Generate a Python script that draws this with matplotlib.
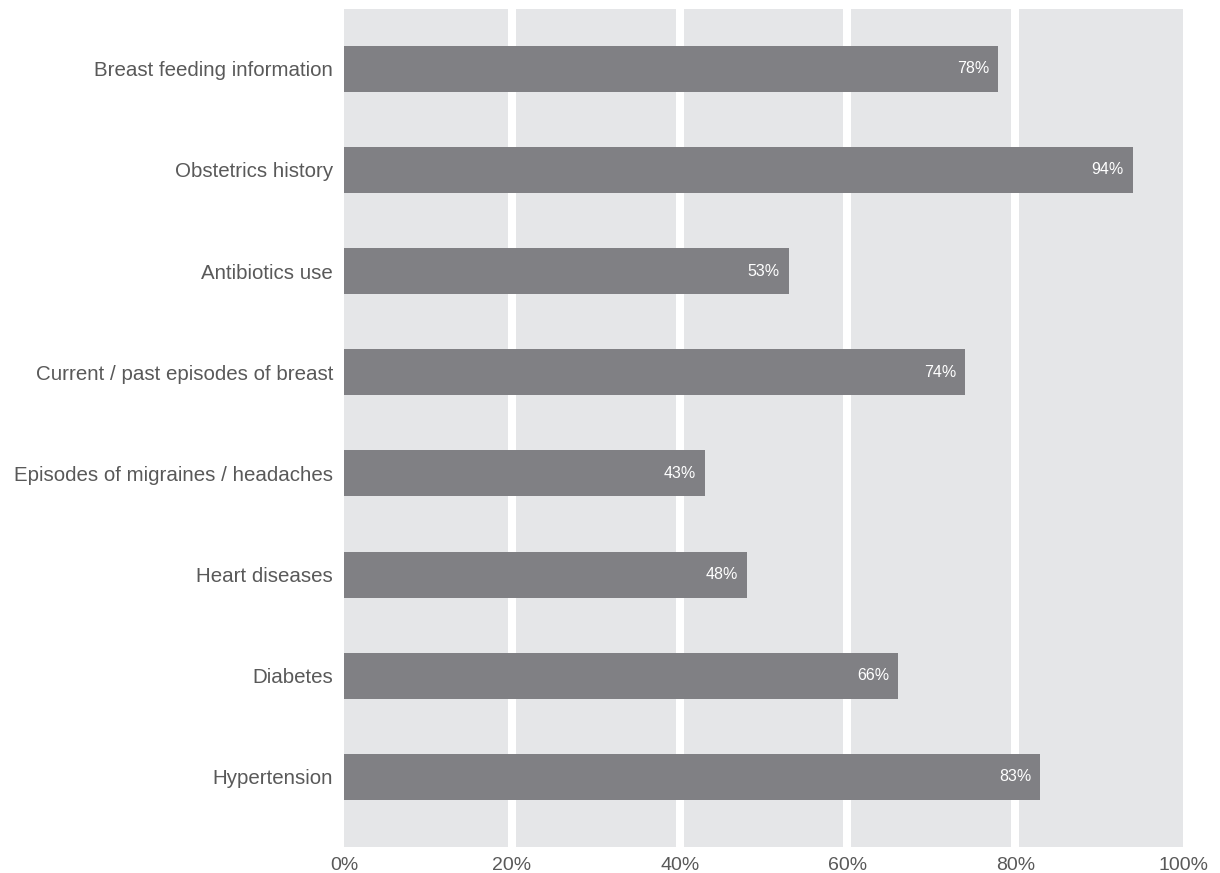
import matplotlib
matplotlib.use("Agg")
import matplotlib.pyplot as plt

categories = [
    "Hypertension",
    "Diabetes",
    "Heart diseases",
    "Episodes of migraines / headaches",
    "Current / past episodes of breast",
    "Antibiotics use",
    "Obstetrics history",
    "Breast feeding information",
]
values = [83, 66, 48, 43, 74, 53, 94, 78]
xticks = [0, 20, 40, 60, 80, 100]
xtick_labels = ["0%", "20%", "40%", "60%", "80%", "100%"]

plt.rcParams["font.family"] = ["Liberation Sans", "DejaVu Sans"]

fig = plt.figure(figsize=(12.2, 8.73), dpi=100)
ax = fig.add_axes([0.282, 0.030, 0.6877, 0.9597])

bg = "#e5e6e8"
bar_color = "#808084"
text_color = "#595959"

ax.set_facecolor(bg)
for s in ax.spines.values():
    s.set_visible(False)

for t in xticks[1:-1]:
    ax.axvline(t, color="white", lw=5.8, zorder=1)

ypos = list(range(len(categories)))
ax.barh(ypos, values, height=0.455, color=bar_color, zorder=2)

for y, v in zip(ypos, values):
    ax.text(v - 1.05, y, f"{v}%", ha="right", va="center",
            color="white", fontsize=11.5, zorder=3)

ax.set_xlim(0, 100)
ax.set_ylim(-0.69, 7.59)
ax.set_xticks(xticks)
ax.set_xticklabels(xtick_labels, fontsize=14, color=text_color)
ax.set_yticks(ypos)
ax.set_yticklabels(categories, fontsize=14.8, color=text_color)
ax.tick_params(axis="both", length=0)
ax.tick_params(axis="y", pad=8)
ax.tick_params(axis="x", pad=7)

fig.savefig("out.png", dpi=100, facecolor="white")
